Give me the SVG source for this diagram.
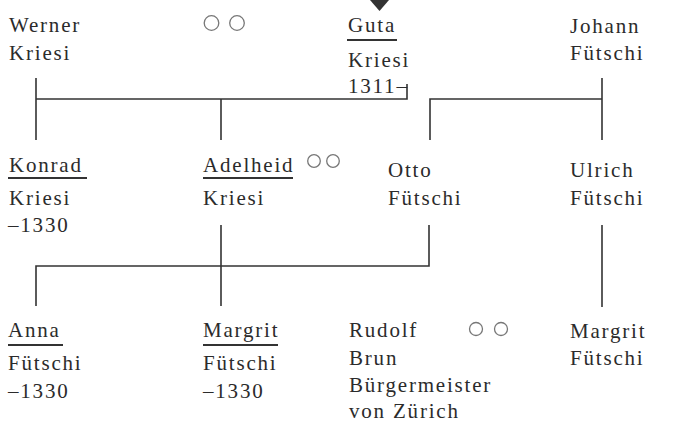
<svg xmlns="http://www.w3.org/2000/svg" width="687" height="423" viewBox="0 0 687 423">
<style>
text{font-family:"Liberation Serif","Times New Roman",serif;font-size:21px;fill:#2b2b2b;letter-spacing:1.8px}
.ln{stroke:#333;stroke-width:1.6;fill:none}
.ul{stroke:#333;stroke-width:1.8}
.c{fill:none;stroke:#777;stroke-width:1.3}
</style>
<rect width="687" height="423" fill="#fff"/>
<g id="connectors">
<polyline class="ln" points="36,78 36,140"/>
<polyline class="ln" points="36,99 407,99 407,84"/>
<polyline class="ln" points="221,99 221,140"/>
<polyline class="ln" points="430,140 430,99 602,99"/>
<polyline class="ln" points="602,78 602,140"/>
<polyline class="ln" points="221,225 221,306"/>
<polyline class="ln" points="36,306 36,266 429,266 429,225"/>
<polyline class="ln" points="602,225 602,307"/>
</g>
<g id="marker-top"><polygon points="370,0 389,0 379.5,11" fill="#333"/></g>
<g id="werner"><text x="9" y="32">Werner</text><text x="9" y="60">Kriesi</text></g>
<g id="rings1"><circle class="c" cx="211.5" cy="23" r="7.3"/><circle class="c" cx="237" cy="23" r="7.3"/></g>
<g id="guta"><text x="348" y="32">Guta</text><line class="ul" x1="347" y1="40" x2="397" y2="40"/><text x="348" y="67">Kriesi</text><text x="348" y="93">1311–</text></g>
<g id="johann"><text x="570" y="33">Johann</text><text x="570" y="60">Fütschi</text></g>
<g id="konrad"><text x="9" y="172">Konrad</text><line class="ul" x1="8" y1="178" x2="87" y2="178"/><text x="9" y="205">Kriesi</text><text x="8" y="232">–1330</text></g>
<g id="adelheid"><text x="203" y="172">Adelheid</text><line class="ul" x1="203" y1="178" x2="293" y2="178"/><text x="203" y="205">Kriesi</text></g>
<g id="rings2"><circle class="c" cx="314" cy="161" r="6.3"/><circle class="c" cx="333" cy="161" r="6.3"/></g>
<g id="otto"><text x="388" y="177">Otto</text><text x="388" y="205">Fütschi</text></g>
<g id="ulrich"><text x="570" y="177">Ulrich</text><text x="570" y="205">Fütschi</text></g>
<g id="anna"><text x="8" y="337">Anna</text><line class="ul" x1="8" y1="345" x2="63" y2="345"/><text x="8" y="370">Fütschi</text><text x="8" y="398">–1330</text></g>
<g id="margrit1"><text x="203" y="337">Margrit</text><line class="ul" x1="203" y1="345" x2="278" y2="345"/><text x="203" y="370">Fütschi</text><text x="203" y="398">–1330</text></g>
<g id="rudolf"><text x="349" y="337">Rudolf</text><text x="349" y="365">Brun</text><text x="349" y="392">Bürgermeister</text><text x="349" y="418">von Zürich</text></g>
<g id="rings3"><circle class="c" cx="476" cy="329" r="6.5"/><circle class="c" cx="501" cy="329" r="6.5"/></g>
<g id="margrit2"><text x="570" y="338">Margrit</text><text x="570" y="365">Fütschi</text></g>
</svg>
